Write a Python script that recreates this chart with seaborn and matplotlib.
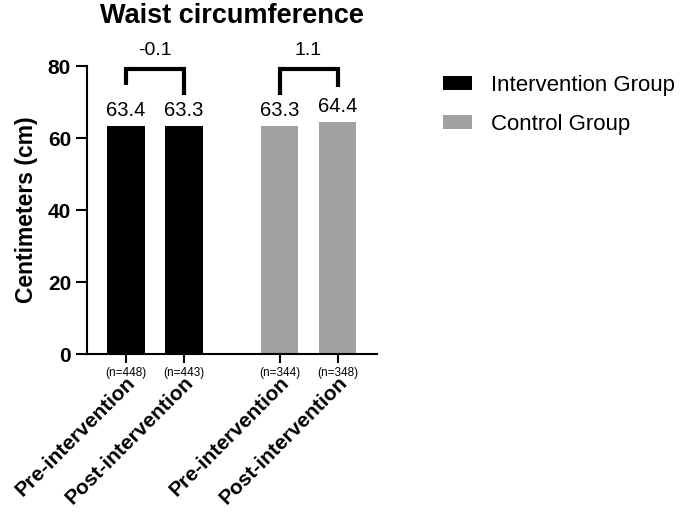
import numpy as np
import pandas as pd
import matplotlib
matplotlib.use("Agg")
import matplotlib.pyplot as plt
import seaborn as sns
from matplotlib.patches import Patch

# ---- data ----
groups = ["Intervention Group", "Intervention Group", "Control Group", "Control Group"]
phases = ["Pre-intervention", "Post-intervention", "Pre-intervention", "Post-intervention"]
values = [63.4, 63.3, 63.3, 64.4]
n_counts = [448, 443, 344, 348]
group_names = ["Intervention Group", "Control Group"]
group_colors = ["#000000", "#a0a0a0"]

sns.set_theme(style="ticks")
plt.rcParams["font.family"] = ["Liberation Sans", "DejaVu Sans"]
for key in ["text.color", "axes.labelcolor", "xtick.color", "ytick.color"]:
    plt.rcParams[key] = "black"

# layout: within-group spacing 1, extra gap between groups
group_idx = [group_names.index(g) for g in groups]
within_idx = [0, 1, 0, 1]
pos = [w + g * 2.65 for w, g in zip(within_idx, group_idx)]

df = pd.DataFrame({"pos": pos, "value": values, "group": groups, "phase": phases})

fig = plt.figure(figsize=(6.85, 5.14), dpi=100)
ax = fig.add_axes([87 / 685, 1 - 354 / 514, 290 / 685, 288 / 514])

sns.barplot(data=df, x="pos", y="value", hue="group", hue_order=group_names,
            palette=group_colors, native_scale=True, dodge=False, width=0.65,
            saturation=1, linewidth=0, legend=False, ax=ax)

ax.set_xlim(-0.67, 4.33)
ax.set_ylim(0, 80)
ax.set_yticks([0, 20, 40, 60, 80])
ax.set_xticks(pos)
ax.set_xticklabels(phases, rotation=45, ha="right", va="top",
                   rotation_mode="anchor", fontsize=15, fontweight="bold")
ax.tick_params(axis="x", length=6.5, width=1.5, pad=7, colors="black")
ax.tick_params(axis="y", length=8, width=1.5, labelsize=15, colors="black")
for lab in ax.get_yticklabels():
    lab.set_fontweight("bold")
ax.set_xlabel("")
ax.set_ylabel("Centimeters (cm)", fontsize=16.5, fontweight="bold", labelpad=7)
for s in ["left", "bottom"]:
    ax.spines[s].set_linewidth(1.5)
    ax.spines[s].set_color("black")
sns.despine(ax=ax)

ax.set_title("Waist circumference", fontsize=19.5, fontweight="bold", pad=31)

# value labels and n labels
for x, v, n in zip(pos, values, n_counts):
    ax.annotate(f"{v:.1f}", xy=(x, v), xytext=(0, 7), textcoords="offset points",
                ha="center", va="baseline", fontsize=14.5, annotation_clip=False)
    ax.annotate(f"(n={n})", xy=(x, 0), xycoords=("data", "axes fraction"),
                xytext=(0, -14), textcoords="offset points",
                ha="center", va="center", fontsize=8.5, annotation_clip=False)

# brackets with differences
bracket_top = 79.2
leg_bottoms = [[74.7, 71.9], [71.9, 74.2]]
for gi in range(len(group_names)):
    idxs = [i for i, g in enumerate(group_idx) if g == gi]
    x0, x1 = pos[idxs[0]], pos[idxs[1]]
    diff = values[idxs[1]] - values[idxs[0]]
    lb = leg_bottoms[gi]
    ax.plot([x0, x0, x1, x1], [lb[0], bracket_top, bracket_top, lb[1]],
            color="black", lw=3, clip_on=False, solid_joinstyle="miter",
            solid_capstyle="butt")
    ax.annotate(f"{diff:.1f}", xy=((x0 + x1) / 2, bracket_top), xytext=(0, 10),
                textcoords="offset points", ha="center", va="baseline",
                fontsize=14, annotation_clip=False)

handles = [Patch(facecolor=c, edgecolor="none", label=g)
           for g, c in zip(group_names, group_colors)]
fig.legend(handles=handles, loc="upper left", bbox_to_anchor=(443 / 685, 1 - 75 / 514),
           frameon=False, fontsize=16, handlelength=1.3, handleheight=0.6,
           handletextpad=0.85, labelspacing=0.8, borderpad=0, borderaxespad=0)

fig.savefig("out.png", dpi=100)
